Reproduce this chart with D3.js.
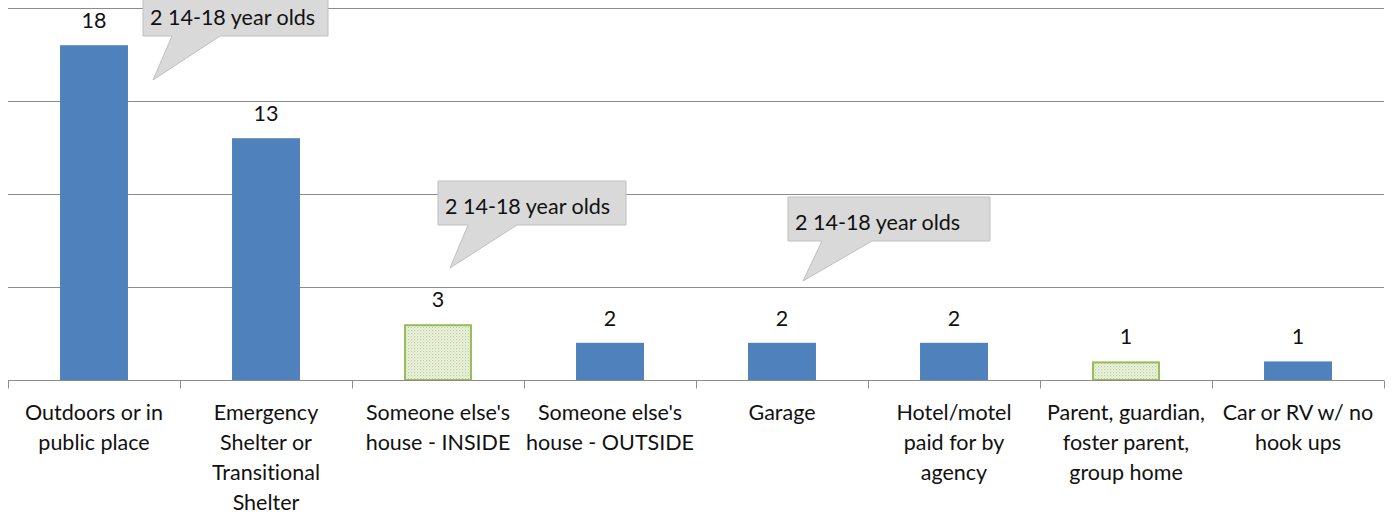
<!DOCTYPE html>
<html><head><meta charset="utf-8">
<script src="https://cdn.jsdelivr.net/npm/d3@7"></script>
<style>body{margin:0;background:#fff;overflow:hidden}text{font-family:Lato,"Open Sans",sans-serif;font-variant-ligatures:none;font-feature-settings:"liga" 0}</style>
</head><body><svg id="c" width="1392" height="529"></svg>
<script>
const categories = [
  ["Outdoors or in","public place"],
  ["Emergency","Shelter or","Transitional","Shelter"],
  ["Someone else's","house - INSIDE"],
  ["Someone else's","house - OUTSIDE"],
  ["Garage"],
  ["Hotel/motel","paid for by","agency"],
  ["Parent, guardian,","foster parent,","group home"],
  ["Car or RV w/ no","hook ups"]
];
const values = [18, 13, 3, 2, 2, 2, 1, 1];
const patterned = [false, false, true, false, false, false, true, false];
const gridTicks = [0, 5, 10, 15, 20];
const calloutTexts = ["2 14-18 year olds", "2 14-18 year olds", "2 14-18 year olds"];
const calloutCats = [0, 2, 4];

const FS = 21.5;
const svg = d3.select("#c");
const x = d3.scaleBand().domain(d3.range(values.length)).range([8, 1384]).paddingInner(0.605).paddingOuter(0.3025);
const y = d3.scaleLinear().domain([0, 20]).range([380, 8]);

const defs = svg.append("defs");
const pat = defs.append("pattern").attr("id","dots").attr("width",3).attr("height",3).attr("patternUnits","userSpaceOnUse");
pat.append("rect").attr("width",3).attr("height",3).attr("fill","#eef4e4");
pat.append("rect").attr("x",0).attr("y",0).attr("width",1.2).attr("height",1.2).attr("fill","#b9cf92");
pat.append("rect").attr("x",1.5).attr("y",1.5).attr("width",1.2).attr("height",1.2).attr("fill","#cfdfb3");

// gridlines
svg.append("g").selectAll("line").data(gridTicks.slice(1)).join("line")
  .attr("x1",8).attr("x2",1384).attr("y1",d=>Math.round(y(d))+0.5).attr("y2",d=>Math.round(y(d))+0.5)
  .attr("stroke","#8c8c8c").attr("stroke-width",1);

// bars
svg.append("g").selectAll("rect").data(values).join("rect")
  .attr("x",(d,i)=>x(i)+(patterned[i]?1:0)).attr("width",(d,i)=>x.bandwidth()-(patterned[i]?2:0))
  .attr("y",(d,i)=>y(d)+(patterned[i]?1:0)).attr("height",(d,i)=>y(0)-y(d)-(patterned[i]?1:0))
  .attr("fill",(d,i)=>patterned[i]?"url(#dots)":"#4f81bd")
  .attr("stroke",(d,i)=>patterned[i]?"#9bbb59":"none").attr("stroke-width",2);

// x axis
const xa = d3.scaleLinear().domain([0, values.length]).range([8,1384]);
const axisG = svg.append("g").attr("transform","translate(0,380.5)");
axisG.append("line").attr("x1",8).attr("x2",1384).attr("stroke","#8c8c8c");
axisG.selectAll("line.t").data(d3.range(values.length+1)).join("line").attr("class","t")
  .attr("x1",d=>Math.round(xa(d))+0.5).attr("x2",d=>Math.round(xa(d))+0.5).attr("y1",0).attr("y2",8).attr("stroke","#8c8c8c");

// category labels
const lab = svg.append("g").selectAll("text").data(categories).join("text")
  .attr("text-anchor","middle").attr("font-size",FS).attr("fill","#111");
lab.each(function(lines,i){
  d3.select(this).selectAll("tspan").data(lines).join("tspan")
    .attr("x",x(i)+x.bandwidth()/2).attr("y",(l,j)=>420+j*30).text(l=>l);
});

// value labels
svg.append("g").selectAll("text").data(values).join("text")
  .attr("x",(d,i)=>x(i)+x.bandwidth()/2).attr("y",d=>y(d)-17)
  .attr("text-anchor","middle").attr("font-size",FS).attr("fill","#111").text(d=>d);

// callouts (offsets relative to anchor)
const cfg = [
  {dx:[49,234], top:-8, bottom:36, base:[78,126], tip:[59,80]},
  {dx:[0,188], top:181, bottom:225, base:[30,79], tip:[12,268]},
  {dx:[0,202], top:197, bottom:241, base:[34,84], tip:[15,281]}
];
const anchors = [x(calloutCats[0])+x.bandwidth()/2, 438, 788];
calloutTexts.forEach((t,k)=>{
  const c = cfg[k], a = anchors[k];
  const L=a+c.dx[0], R=a+c.dx[1];
  const p = `M${L},${c.top}H${R}V${c.bottom}H${a+c.base[1]}L${a+c.tip[0]},${c.tip[1]}L${a+c.base[0]},${c.bottom}H${L}Z`;
  svg.append("path").attr("d",p).attr("fill","#d9d9d9").attr("stroke","#bfbfbf").attr("stroke-width",1);
  svg.append("text").attr("x",L+7).attr("y",(c.top+c.bottom)/2+11).attr("font-size",FS).attr("fill","#111").text(t);
});
</script></body></html>
